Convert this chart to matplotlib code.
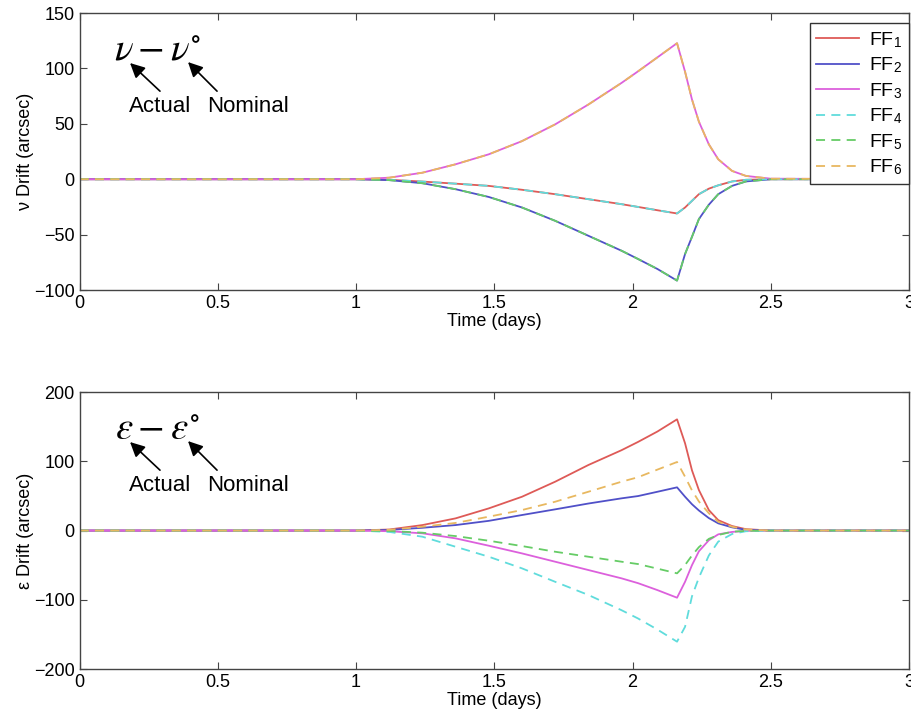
import numpy as np
import matplotlib
matplotlib.use('Agg')
import matplotlib.pyplot as plt

plt.rcParams['font.family'] = ['Liberation Sans', 'DejaVu Sans']
plt.rcParams['mathtext.fontset'] = 'custom'
plt.rcParams['mathtext.rm'] = 'Liberation Sans'
plt.rcParams['mathtext.sf'] = 'Liberation Sans'
plt.rcParams['mathtext.it'] = 'STIXGeneral:italic'
plt.rcParams['mathtext.fallback'] = 'stix'

# Tiempo (dias) en el que se leen las curvas
t = [0, 1.0, 1.12, 1.24, 1.36, 1.48, 1.60, 1.72, 1.84, 1.96, 2.02, 2.09, 2.161,
     2.19, 2.215, 2.24, 2.276, 2.31, 2.36, 2.41, 2.5, 3.0]

# Deriva en nu (arcsec): tres grupos de curvas superpuestas
nu_up = [0, 0, 1.4, 5.9, 13.5, 22.5, 34.4, 49.5, 67.4, 86.9, 97.4, 110, 122.8,
         97, 72, 52, 31.5, 18, 7.5, 3, 0.5, 0]
nu_mid = [0, 0, -0.5, -2.1, -4, -6, -9.5, -13.5, -18, -22.5, -25, -28, -30.9,
          -25.5, -19.5, -13.5, -8.5, -5.5, -2, -0.5, 0, 0]
nu_low = [0, 0, -0.8, -3.6, -9, -16, -25.5, -37.5, -51, -64.5, -72, -81, -91.5,
          -67.5, -52, -36, -23, -13.5, -6, -2, 0, 0]

nu_ff1 = nu_mid
nu_ff2 = nu_low
nu_ff3 = nu_up
nu_ff4 = nu_mid
nu_ff5 = nu_low
nu_ff6 = nu_up

# Deriva en epsilon (arcsec)
eps_ff1 = [0, 0, 1.5, 7.9, 17.6, 32, 48.8, 70.5, 94.6, 116, 128, 143, 160.6,
           126, 87, 58.5, 29.6, 15, 6.5, 2, 0, 0]
eps_ff2 = [0, 0, 0.8, 4, 7.9, 14, 22.4, 30.6, 39, 46.5, 49.8, 56, 62.4,
           48.8, 38, 29, 18, 10.4, 4.6, 1, 0, 0]
eps_ff3 = [0, 0, -1, -4, -11.3, -21.9, -33, -45, -57, -69, -76, -86, -97,
           -74, -50, -30, -14, -5.5, -2, -0.5, 0, 0]
eps_ff4 = [0, 0, -2, -8.9, -23.4, -37.8, -54.6, -74, -93, -115, -127, -143, -160.5,
           -139, -95, -68, -36, -16, -5, -1, 0, 0]
eps_ff5 = [0, 0, -0.6, -3.1, -8, -14.7, -22.4, -30.6, -37.8, -45, -48.4, -55, -61.8,
           -49.8, -36, -24, -12, -6.5, -1.7, -0.5, 0, 0]
eps_ff6 = [0, 0, 1, 5.5, 11, 20, 29.6, 41.6, 56, 70.5, 77, 88, 99,
           77.7, 58, 42, 25, 12.7, 5.5, 1.5, 0, 0]

labels = [r'FF$_{\mathrm{%d}}$' % i for i in range(1, 7)]
colors = ['#de5a57', '#5050c8', '#dc60dc', '#60dcdc', '#66cc66', '#e8b860']
styles = ['-', '-', '-', '--', '--', '--']

fig = plt.figure(figsize=(9.12, 7.17), dpi=100)
ax1 = fig.add_axes([0.0873, 0.5955, 0.9094, 0.3863])
ax2 = fig.add_axes([0.0873, 0.0669, 0.9094, 0.3863])


def draw(ax, series):
    for y, c, ls, lab in zip(series, colors, styles, labels):
        if ls == '--':
            ax.plot(t, y, color=c, lw=1.3, dashes=(5, 3.5), label=lab)
        else:
            ax.plot(t, y, color=c, lw=1.3, label=lab)
    ax.set_xlim(0, 3)
    ax.set_xticks(np.arange(0, 3.01, 0.5))
    ax.set_xticklabels(['0', '0.5', '1', '1.5', '2', '2.5', '3'])
    ax.set_xlabel('Time (days)', fontsize=13, labelpad=1)
    ax.tick_params(direction='in', top=True, right=True, length=5,
                   labelsize=13, color='#444444')
    for s in ax.spines.values():
        s.set_color('#444444')
        s.set_linewidth(1.0)


def notes(ax, expr):
    ax.text(0.0945, 0.866, expr, transform=ax.transAxes, fontsize=28,
            ha='center', va='center', math_fontfamily='stix')
    arrow = dict(arrowstyle='-|>', color='k', lw=1.2, mutation_scale=22,
                 shrinkA=0, shrinkB=0)
    ax.annotate('', xy=(0.0608, 0.8195), xytext=(0.0969, 0.718),
                xycoords='axes fraction', arrowprops=arrow)
    ax.annotate('', xy=(0.1307, 0.823), xytext=(0.1657, 0.718),
                xycoords='axes fraction', arrowprops=arrow)
    ax.text(0.097, 0.661, 'Actual', transform=ax.transAxes, fontsize=16,
            ha='center', va='center')
    ax.text(0.203, 0.661, 'Nominal', transform=ax.transAxes, fontsize=16,
            ha='center', va='center')


draw(ax1, [nu_ff1, nu_ff2, nu_ff3, nu_ff4, nu_ff5, nu_ff6])
ax1.set_ylim(-100, 150)
ax1.set_yticks([-100, -50, 0, 50, 100, 150])
ax1.set_ylabel('ν Drift (arcsec)', fontsize=13, labelpad=0)
notes(ax1, r'$\nu - \nu^{\circ}$')
leg = ax1.legend(loc='upper right', bbox_to_anchor=(1.0, 1 - 10 / 277),
                 borderaxespad=0, fontsize=14, labelspacing=0.3,
                 handlelength=2.2, handletextpad=0.5, borderpad=0.35,
                 fancybox=False, framealpha=1, edgecolor='#333333')
leg.get_frame().set_linewidth(1.0)

draw(ax2, [eps_ff1, eps_ff2, eps_ff3, eps_ff4, eps_ff5, eps_ff6])
ax2.set_ylim(-200, 200)
ax2.set_yticks([-200, -100, 0, 100, 200])
ax2.set_ylabel('ε Drift (arcsec)', fontsize=13, labelpad=0)
notes(ax2, r'$\varepsilon - \varepsilon^{\circ}$')

fig.savefig('out.png', dpi=100)
